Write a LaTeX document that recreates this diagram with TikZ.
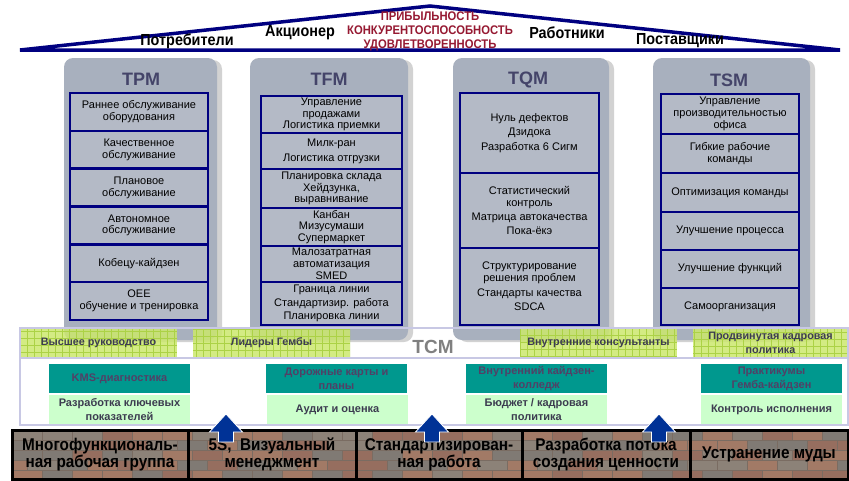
\documentclass[tikz,border=0pt]{standalone}
\usepackage{fontspec}
\setmainfont{Liberation Sans}
\newfontfamily\condfont[FakeStretch=0.9]{Liberation Sans}
\usetikzlibrary{shadows}

\definecolor{navy}{RGB}{0,0,128}
\definecolor{roofred}{RGB}{150,25,50}
\definecolor{stone}{RGB}{168,176,190}
\definecolor{stonecell}{RGB}{180,186,198}
\definecolor{titlegray}{RGB}{68,68,105}
\definecolor{lime}{RGB}{204,232,110}
\definecolor{limegrid}{RGB}{172,210,70}
\definecolor{teal}{RGB}{0,152,142}
\definecolor{mint}{RGB}{204,255,204}
\definecolor{tealtext}{RGB}{82,64,102}
\definecolor{darktext}{RGB}{60,60,80}
\definecolor{lavender}{RGB}{200,200,228}
\definecolor{arrowblue}{RGB}{0,50,150}
\definecolor{brick0}{RGB}{150,110,95}
\definecolor{brick1}{RGB}{128,122,116}
\definecolor{brick2}{RGB}{162,122,102}
\definecolor{brick3}{RGB}{140,130,120}
\definecolor{mortar}{RGB}{122,108,98}

\tikzset{
  roof/.style={draw=navy, line width=3.5pt, line join=miter},
  rooflabel/.style={font=\condfont\bfseries\fontsize{16}{18}\selectfont},
  goals/.style={align=center, text=roofred, font=\condfont\bfseries\fontsize{12.5}{14}\selectfont},
  pillar/.style={fill=stone, rounded corners=9pt, inner sep=0pt,
    drop shadow={shadow xshift=5pt, shadow yshift=-2pt, opacity=0.35}},
  pillartitle/.style={text=titlegray, font=\bfseries\fontsize{18}{20}\selectfont},
  cell/.style={draw=navy, line width=2.6pt, fill=stonecell, align=center,
    inner sep=0pt, font=\fontsize{11}{11.8}\selectfont},
  strip/.style={fill=lime, fill opacity=0.85, text opacity=1, align=center,
    inner sep=0pt, text=darktext, font=\bfseries\fontsize{10.8}{14}\selectfont,
    minimum height=30pt,
    path picture={\draw[limegrid, line width=0.5pt]
      (path picture bounding box.south west) grid[step=7pt]
      (path picture bounding box.north east);}},
  tealbox/.style={fill=teal, text=tealtext, align=center, inner sep=0pt,
    minimum width=141pt, minimum height=29pt,
    font=\bfseries\fontsize{11}{14}\selectfont},
  mintbox/.style={fill=mint, text=darktext, align=center, inner sep=0pt,
    minimum width=141pt, minimum height=29pt,
    font=\bfseries\fontsize{11}{14}\selectfont},
  basecell/.style={draw=black, line width=3pt, align=center, inner sep=0pt,
    minimum height=49pt, font=\condfont\bfseries\fontsize{17}{19}\selectfont},
  uparrow/.pic={
    \draw[fill=arrowblue, draw=white, line width=0.8pt]
      (-7.5,0) -- ++(0,-10) -- ++(-9,0) -- ++(16.5,-18) -- ++(16.5,18)
      -- ++(-9,0) -- ++(0,10) -- cycle;}
}

\begin{document}
\begin{tikzpicture}[x=1pt, y=-1pt]
  \useasboundingbox[fill=white] (0,0) rectangle (849,480);

  %% roof
  \coordinate (roofL) at (20,50);
  \coordinate (roofT) at (430,6);
  \coordinate (roofR) at (840,50);
  \draw[roof] (roofL) -- (roofT) -- (roofR) -- cycle;
  \node[rooflabel] (consumers) at (187,41) {Потребители};
  \node[rooflabel] (holders) at (300,33) {Акционер};
  \node[rooflabel] (workers) at (567,33) {Работники};
  \node[rooflabel] (suppliers) at (680,41) {Поставщики};
  \node[goals] (goals) at (430,31.5)
    {ПРИБЫЛЬНОСТЬ\\КОНКУРЕНТОСПОСОБНОСТЬ\\УДОВЛЕТВОРЕННОСТЬ};

  %% pillars
  \node[pillar, minimum width=153pt, minimum height=282pt] (tpm) at (140.5,199) {};
  \node[pillar, minimum width=158pt, minimum height=282pt] (tfm) at (329,199) {};
  \node[pillar, minimum width=156pt, minimum height=282pt] (tqm) at (531,199) {};
  \node[pillar, minimum width=157pt, minimum height=282pt] (tsm) at (731.5,199) {};
  \node[pillartitle] (tpm title) at (141,79) {TPM};
  \node[pillartitle] (tfm title) at (329,79) {TFM};
  \node[pillartitle] (tqm title) at (528,80) {TQM};
  \node[pillartitle] (tsm title) at (729,80) {TSM};

  %% TPM
  \node[cell, minimum width=138pt, minimum height=37.8pt] (tpm1) at (139,111.9)
    {Раннее обслуживание\\оборудования};
  \node[cell, minimum width=138pt, minimum height=37.8pt] (tpm2) at (139,149.7)
    {Качественное\\обслуживание};
  \node[cell, minimum width=138pt, minimum height=37.8pt] (tpm3) at (139,187.5)
    {Плановое\\обслуживание};
  \node[cell, minimum width=138pt, minimum height=37.8pt] (tpm4) at (139,225.3)
    {Автономное\\обслуживание};
  \node[cell, minimum width=138pt, minimum height=37.8pt] (tpm5) at (139,263.1)
    {Кобецу-кайдзен};
  \node[cell, minimum width=138pt, minimum height=37.8pt] (tpm6) at (139,300.9)
    {OEE\\обучение и тренировка};

  %% TFM
  \node[cell, minimum width=141pt, minimum height=37pt] (tfm1) at (331.5,114.5)
    {Управление\\продажами\\Логистика приемки};
  \node[cell, minimum width=141pt, minimum height=36pt] (tfm2) at (331.5,151)
    {Милк-ран\\[3pt]Логистика отгрузки};
  \node[cell, minimum width=141pt, minimum height=39pt] (tfm3) at (331.5,188.5)
    {Планировка склада\\Хейдзунка,\\выравнивание};
  \node[cell, minimum width=141pt, minimum height=38pt] (tfm4) at (331.5,227)
    {Канбан\\Мизусумаши\\Супермаркет};
  \node[cell, minimum width=141pt, minimum height=36pt] (tfm5) at (331.5,264)
    {Малозатратная\\автоматизация\\SMED};
  \node[cell, minimum width=141pt, minimum height=43pt] (tfm6) at (331.5,303.5)
    {Граница линии\\[2pt]Стандартизир. работа\\[2pt]Планировка линии};

  %% TQM
  \node[cell, minimum width=139pt, minimum height=80pt] (tqm1) at (529.5,133)
    {Нуль дефектов\\[3pt]Дзидока\\[3pt]Разработка 6 Сигм};
  \node[cell, minimum width=139pt, minimum height=75pt] (tqm2) at (529.5,210.5)
    {Статистический\\контроль\\[2pt]Матрица автокачества\\[2pt]Пока-ёкэ};
  \node[cell, minimum width=139pt, minimum height=77pt] (tqm3) at (529.5,286.5)
    {Структурирование\\решения проблем\\[3pt]Стандарты качества\\[3pt]SDCA};

  %% TSM
  \node[cell, minimum width=138pt, minimum height=40pt] (tsm1) at (730,114)
    {Управление\\производительностью\\офиса};
  \node[cell, minimum width=138pt, minimum height=39pt] (tsm2) at (730,153.5)
    {Гибкие рабочие\\команды};
  \node[cell, minimum width=138pt, minimum height=39pt] (tsm3) at (730,192.5)
    {Оптимизация команды};
  \node[cell, minimum width=138pt, minimum height=38pt] (tsm4) at (730,231)
    {Улучшение процесса};
  \node[cell, minimum width=138pt, minimum height=38pt] (tsm5) at (730,269)
    {Улучшение функций};
  \node[cell, minimum width=138pt, minimum height=37pt] (tsm6) at (730,306.5)
    {Самоорганизация};

  %% TCM band
  \node[fill=white, inner sep=0pt, minimum width=828pt, minimum height=67pt] (tcm low) at (434,391.5) {};
  \node[strip, minimum width=157pt] (top mgmt) at (98.5,343) {Высшее руководство};
  \node[strip, minimum width=157pt] (gemba lead) at (271.5,343) {\raisebox{-3pt}{Лидеры Гембы}};
  \node[strip, minimum width=157pt] (consult) at (598.5,343) {\raisebox{-3pt}{Внутренние консультанты}};
  \node[strip, minimum width=155pt] (hr policy) at (770.5,343) {Продвинутая кадровая\\политика};
  \node[text=gray, font=\bfseries\fontsize{19}{20}\selectfont] (tcm) at (433,347) {TCM};
  \draw[lavender, line width=1.5pt] (20,328) rectangle (848,425);
  \draw[lavender, line width=1.5pt] (tcm low.north west) -- (tcm low.north east);

  \node[tealbox] (kms) at (119.5,378.5) {KMS-диагностика};
  \node[mintbox] (kpi) at (119.5,409.5) {Разработка ключевых\\показателей};
  \node[tealbox] (roadmap) at (336.5,378.5) {Дорожные карты и\\планы};
  \node[mintbox] (audit) at (337.5,409.5) {Аудит и оценка};
  \node[tealbox] (college) at (536.5,378.5) {Внутренний кайдзен-\\колледж};
  \node[mintbox] (budget) at (536.5,409.5) {Бюджет / кадровая\\политика};
  \node[tealbox] (workshop) at (771.5,378.5) {Практикумы\\Гемба-кайдзен};
  \node[mintbox] (control) at (771.5,409.5) {Контроль исполнения};

  %% foundation bricks
  \pgfmathsetseed{11}
  \begin{scope}
    \clip (12,430) rectangle (848,479);
    \foreach \row in {0,...,4} {
      \foreach \col in {0,...,28} {
        \pgfmathrandominteger{\shade}{0}{3}
        \pgfmathsetmacro{\xo}{12+\col*30-mod(\row,2)*15}
        \filldraw[fill=brick\shade, draw=mortar, line width=0.5pt]
          (\xo,430+\row*10) rectangle ++(30,10);
      }
    }
  \end{scope}
  \node[basecell, minimum width=176pt] (team) at (100,454.5) {\raisebox{-2pt}{Многофункциональ-}\\ная рабочая группа};
  \node[basecell, minimum width=168pt] (visual) at (272,454.5) {\raisebox{-2pt}{5S,\ \ Визуальный}\\менеджмент};
  \node[basecell, minimum width=166pt] (stdwork) at (439,454.5) {\raisebox{-2pt}{Стандартизирован-}\\ная работа};
  \node[basecell, minimum width=168pt] (vsm) at (606,454.5) {\raisebox{-2pt}{Разработка потока}\\создания ценности};
  \node[basecell, minimum width=158pt] (muda) at (769,454.5) {Устранение муды};

  %% arrows
  \pic at (226,442) {uparrow};
  \pic at (432,442) {uparrow};
  \pic at (659,442) {uparrow};

\end{tikzpicture}
\end{document}
